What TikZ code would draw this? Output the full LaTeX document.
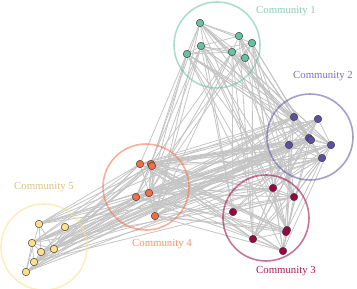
\documentclass[tikz,border=0pt]{standalone}
\usepackage{fontspec}
\setmainfont{Liberation Serif}
\usetikzlibrary{backgrounds}
\definecolor{cA}{HTML}{66C2A5}
\definecolor{cB}{HTML}{5E4FA2}
\definecolor{cC}{HTML}{9E0142}
\definecolor{cD}{HTML}{F46D43}
\definecolor{cE}{HTML}{FEE08B}
\begin{document}
\begin{tikzpicture}[x=1pt,y=-1pt,
  vtx/.style={circle,draw=black!75,line width=0.5pt,inner sep=0pt,minimum size=7.5pt},
  ring/.style={line width=1.6pt,opacity=0.55},
  lab/.style={font=\fontsize{10.8}{12}\selectfont},
  edge/.style={draw=black!23,line width=0.8pt}]
\useasboundingbox (0,0) rectangle (357,289);
% community rings
\draw[ring,cA] (217,45) circle (43);
\draw[ring,cB] (310,137) circle (43);
\draw[ring,cC] (266,218) circle (43);
\draw[ring,cD] (146,187) circle (43);
\draw[ring,cE] (44,247) circle (43);
% community 1
\node[vtx,fill=cA] (n1) at (200,23) {};
\node[vtx,fill=cA] (n2) at (239,36) {};
\node[vtx,fill=cA] (n3) at (252,43) {};
\node[vtx,fill=cA] (n4) at (201,46) {};
\node[vtx,fill=cA] (n5) at (187,54) {};
\node[vtx,fill=cA] (n6) at (232,52) {};
\node[vtx,fill=cA] (n7) at (245,58) {};
% community 2
\node[vtx,fill=cB] (n8) at (294,117) {};
\node[vtx,fill=cB] (n9) at (318,119) {};
\node[vtx,fill=cB] (n10) at (309,138) {};
\node[vtx,fill=cB] (n11) at (311,140) {};
\node[vtx,fill=cB] (n12) at (289,145) {};
\node[vtx,fill=cB] (n13) at (331,145) {};
\node[vtx,fill=cB] (n14) at (322,158) {};
% community 3
\node[vtx,fill=cC] (n15) at (273,188) {};
\node[vtx,fill=cC] (n16) at (294,197) {};
\node[vtx,fill=cC] (n17) at (233,212) {};
\node[vtx,fill=cC] (n18) at (287,230) {};
\node[vtx,fill=cC] (n19) at (286,232) {};
\node[vtx,fill=cC] (n20) at (253,239) {};
\node[vtx,fill=cC] (n21) at (283,251) {};
% community 4
\node[vtx,fill=cD] (n22) at (140,164) {};
\node[vtx,fill=cD] (n23) at (151,164) {};
\node[vtx,fill=cD] (n24) at (152,166) {};
\node[vtx,fill=cD] (n25) at (136,197) {};
\node[vtx,fill=cD] (n26) at (149,193) {};
\node[vtx,fill=cD] (n27) at (155,216) {};
% community 5
\node[vtx,fill=cE] (n28) at (39,224) {};
\node[vtx,fill=cE] (n29) at (65,227) {};
\node[vtx,fill=cE] (n30) at (32,243) {};
\node[vtx,fill=cE] (n31) at (41,252) {};
\node[vtx,fill=cE] (n32) at (54,249) {};
\node[vtx,fill=cE] (n33) at (34,262) {};
\node[vtx,fill=cE] (n34) at (26,272) {};
% labels
\node[lab,text=cA!80] (l1) at (286,11) {Community 1};
\node[lab,text=cB!80] (l2) at (323,76) {Community 2};
\node[lab,text=cC!90] (l3) at (286,271) {Community 3};
\node[lab,text=cD!75] (l4) at (162,244) {Community 4};
\node[lab,text=cE!85!black!95] (l5) at (44,187) {Community 5};
% edges
\begin{pgfonlayer}{background}
\foreach \i in {1,...,33}{
  \pgfmathtruncatemacro\s{\i+1}
  \pgfmathtruncatemacro\ci{(\i>7)+(\i>14)+(\i>21)+(\i>27)}
  \foreach \j in {\s,...,34}{
    \pgfmathtruncatemacro\cj{(\j>7)+(\j>14)+(\j>21)+(\j>27)}
    \pgfmathtruncatemacro\th{{6,6,5,4,0, 0,6,5,6,5, 0,0,6,6,4, 0,0,0,7,6, 0,0,0,0,6}[\ci*5+\cj]}
    \pgfmathtruncatemacro\k{mod(\i*17+\j*31+\i*\j*7,10)}
    \pgfmathtruncatemacro\skip{(\ci==2)*(\cj==4)*(\i>17)}
    \ifnum\skip=0
      \ifnum\k<\th \draw[edge] (n\i) -- (n\j); \fi
    \fi
  }
}
\end{pgfonlayer}
\end{tikzpicture}
\end{document}
